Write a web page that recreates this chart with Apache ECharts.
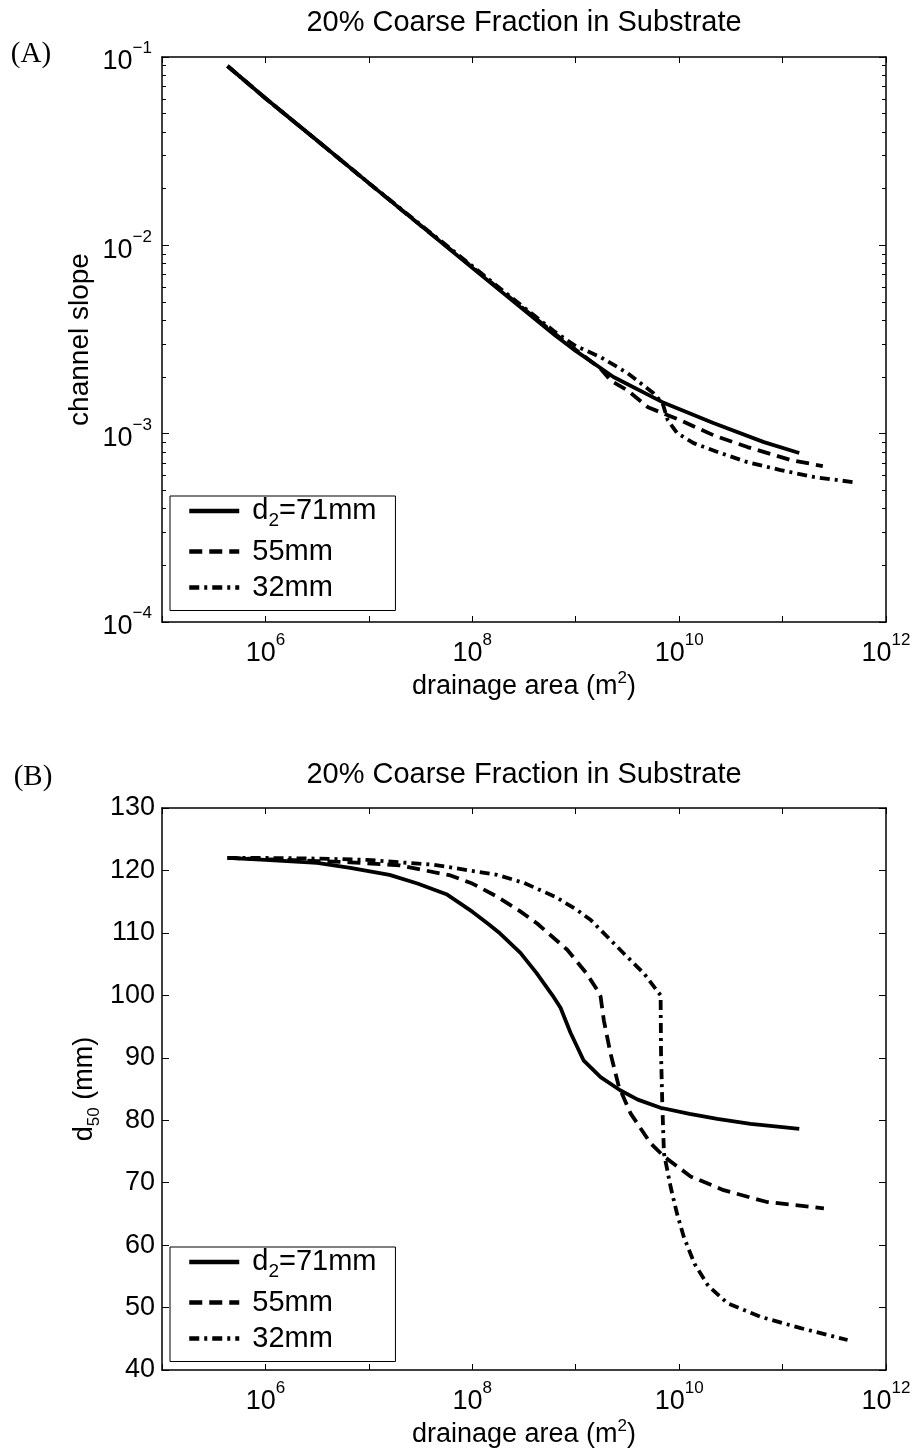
<!DOCTYPE html>
<html>
<head>
<meta charset="utf-8">
<script src="https://cdn.jsdelivr.net/npm/echarts@6/dist/echarts.min.js"></script>
<style>html,body{margin:0;padding:0;background:#fff;}#chart{width:919px;height:1451px;}</style>
</head>
<body>
<div id="chart"></div>
<script>
// ---------- data ----------
const seriesNames = ['d2=71mm', '55mm', '32mm'];

// Panel A: channel slope vs drainage area
const areaA71 = [4.3e5, 1e6, 3.16e6, 1e7, 3.16e7, 1e8, 3.16e8, 6.3e8, 1e9, 2.32e9, 6.9e9, 2.14e10, 6.6e10, 1.45e11];
const slopeA71 = [0.0895, 0.0604, 0.0360, 0.0214, 0.01276, 0.0076, 0.00453, 0.00333, 0.00275, 0.0020, 0.00147, 0.001138, 0.000902, 0.000789];

const areaA55 = [4.3e5, 1e6, 3.16e6, 1e7, 3.16e7, 1e8, 3.16e8, 6.3e8, 1e9, 1.74e9, 2.19e9, 3.16e9, 5.0e9, 1.02e10, 2.14e10, 4.57e10, 1.2e11, 2.45e11];
const slopeA55 = [0.0895, 0.0604, 0.0360, 0.0214, 0.01276, 0.00767, 0.00459, 0.00339, 0.00279, 0.00221, 0.00191, 0.0017, 0.00138, 0.00118, 0.000982, 0.000849, 0.000724, 0.000673];

const areaA32 = [4.3e5, 1e6, 3.16e6, 1e7, 3.16e7, 1e8, 3.16e8, 6.3e8, 1e9, 1.74e9, 3.16e9, 5.62e9, 6.92e9, 7.76e9, 9.55e9, 1.38e10, 2.51e10, 4.57e10, 9.55e10, 2.0e11, 4.8e11];
const slopeA32 = [0.0895, 0.0604, 0.036, 0.0214, 0.01288, 0.00776, 0.00468, 0.00347, 0.00292, 0.00255, 0.0021, 0.001644, 0.001452, 0.00118, 0.001007, 0.000891, 0.000789, 0.000706, 0.000641, 0.000589, 0.000553];

// Panel B: d50 vs drainage area
const areaB71 = [4.3e5, 1e6, 3.16e6, 6.61e6, 1.585e7, 2.95e7, 5.62e7, 1e8, 1.41e8, 1.86e8, 2.92e8, 4.17e8, 5.96e8, 7.13e8, 8.91e8, 1.19e9, 1.74e9, 2.69e9, 3.98e9, 6.61e9, 1.26e10, 2.34e10, 4.9e10, 1e11, 1.45e11];
const d50B71 = [122.0, 121.7, 121.2, 120.4, 119.3, 117.9, 116.2, 113.4, 111.5, 109.9, 106.8, 103.6, 100.0, 98.0, 94.0, 89.6, 86.9, 84.8, 83.3, 82.0, 81.0, 80.2, 79.4, 78.9, 78.6];

const areaB55 = [4.3e5, 1e6, 3.16e6, 6.61e6, 2.0e7, 6.17e7, 1e8, 1.74e8, 2.82e8, 4.24e8, 8.28e8, 1.26e9, 1.61e9, 1.74e9, 1.87e9, 2.17e9, 2.61e9, 3.39e9, 5.3e9, 7.13e9, 1.29e10, 2.69e10, 7.08e10, 2.51e11];
const d50B55 = [122.0, 121.8, 121.5, 121.3, 120.8, 119.2, 117.9, 115.8, 113.6, 111.5, 107.3, 103.6, 100.9, 99.8, 96.0, 90.7, 85.4, 81.1, 76.3, 74.2, 71.0, 68.8, 66.9, 65.9];

const areaB32 = [4.3e5, 1e6, 3.16e6, 9.55e6, 4.27e7, 1.74e8, 3.16e8, 6.31e8, 1e9, 1.39e9, 2.92e9, 4.57e9, 6.62e9, 6.68e9, 6.87e9, 7.13e9, 8.28e9, 9.55e9, 1.11e10, 1.41e10, 1.91e10, 2.93e10, 6.17e10, 1.5e11, 4.25e11];
const d50B32 = [122.0, 122.0, 121.9, 121.7, 120.9, 119.3, 118.0, 115.8, 113.8, 112.1, 106.7, 103.5, 100.0, 90.8, 82.7, 74.7, 69.3, 65.0, 61.3, 57.0, 53.5, 50.7, 48.5, 46.7, 44.8];

// tick definitions
const slopeTickExponents = [-4, -3, -2, -1];
const areaLabelExponents = [6, 8, 10, 12];
const d50Ticks = [40, 50, 60, 70, 80, 90, 100, 110, 120, 130];

// ---------- chart ----------
const FONT = "'Liberation Sans', Arial, Helvetica, sans-serif";
const SERIF = "'Liberation Serif', 'Times New Roman', serif";
const BLACK = '#000';
const zip = (xs, ys) => xs.map((x, i) => [x, ys[i]]);

const supStyle = { fontSize: 17, fontFamily: FONT, color: BLACK, verticalAlign: 'top', lineHeight: 17 };
const expText = e => (e < 0 ? '\u2212' + (-e) : '' + e);

const minorLogTicks = [];
for (let e = -4; e < -1; e++) for (let k = 2; k <= 9; k++) minorLogTicks.push(Math.log10(k) + e);

const xLabelFormatter = v => {
  const e = Math.round(Math.log10(v));
  return areaLabelExponents.includes(e) ? '10{sup|' + expText(e) + '}' : '';
};
const yLogFormatter = v => {
  const e = Math.round(Math.log10(v));
  return slopeTickExponents.includes(e) ? '10{sup|' + expText(e) + '}' : '';
};

function xAxes(gridIndex) {
  const axisLine = { show: true, lineStyle: { color: BLACK, width: 1.5 } };
  const tick = { show: true, inside: true, length: 6, lineStyle: { color: BLACK, width: 1 } };
  return [
    {
      type: 'log', logBase: 10, gridIndex, position: 'bottom', min: 1e5, max: 1e12, splitNumber: 7,
      axisLine, axisTick: tick, splitLine: { show: false },
      axisLabel: { margin: 10, fontSize: 27, fontFamily: FONT, color: BLACK, lineHeight: 44, rich: { sup: supStyle }, formatter: xLabelFormatter },
      name: 'drainage area (m{sup|2})', nameLocation: 'middle', nameGap: 48, nameMoveOverlap: false,
      nameTextStyle: { fontSize: 27, fontFamily: FONT, color: BLACK, lineHeight: 34, rich: { sup: supStyle } }
    },
    {
      type: 'log', logBase: 10, gridIndex, position: 'top', min: 1e5, max: 1e12, splitNumber: 7,
      axisLine, axisTick: tick, splitLine: { show: false }, axisLabel: { show: false }
    }
  ];
}

const option = {
  backgroundColor: '#fff',
  animation: false,
  grid: [
    { left: 162, right: 33, top: 57, height: 565, outerBoundsMode: 'none' },
    { left: 162, right: 33, top: 808, height: 562, outerBoundsMode: 'none' }
  ],
  xAxis: [...xAxes(0), ...xAxes(1)],
  yAxis: [
    { // A left, major
      type: 'log', logBase: 10, gridIndex: 0, position: 'left', min: 1e-4, max: 1e-1, splitNumber: 3,
      axisLine: { show: true, lineStyle: { color: BLACK, width: 1.5 } },
      axisTick: { show: true, inside: true, length: 7, lineStyle: { color: BLACK } },
      splitLine: { show: false },
      axisLabel: { margin: 10, padding: [10, 0, 0, 0], fontSize: 27, fontFamily: FONT, color: BLACK, lineHeight: 44, rich: { sup: supStyle }, formatter: yLogFormatter },
      name: 'channel slope', nameLocation: 'middle', nameGap: 68, nameMoveOverlap: false,
      nameTextStyle: { fontSize: 28, fontFamily: FONT, color: BLACK }
    },
    { // A left, minor ticks
      type: 'value', gridIndex: 0, position: 'left', min: -4, max: -1,
      axisLine: { show: false }, splitLine: { show: false }, axisLabel: { show: false },
      axisTick: { show: true, inside: true, length: 4, customValues: minorLogTicks, lineStyle: { color: BLACK } }
    },
    { // A right, major
      type: 'log', logBase: 10, gridIndex: 0, position: 'right', min: 1e-4, max: 1e-1, splitNumber: 3,
      axisLine: { show: true, lineStyle: { color: BLACK, width: 1.5 } },
      axisTick: { show: true, inside: true, length: 7, lineStyle: { color: BLACK } },
      splitLine: { show: false }, axisLabel: { show: false }
    },
    { // A right, minor
      type: 'value', gridIndex: 0, position: 'right', min: -4, max: -1,
      axisLine: { show: false }, splitLine: { show: false }, axisLabel: { show: false },
      axisTick: { show: true, inside: true, length: 4, customValues: minorLogTicks, lineStyle: { color: BLACK } }
    },
    { // B left
      type: 'value', gridIndex: 1, position: 'left', min: d50Ticks[0], max: d50Ticks[d50Ticks.length - 1], interval: 10,
      axisLine: { show: true, lineStyle: { color: BLACK, width: 1.5 } },
      axisTick: { show: true, inside: true, length: 7, lineStyle: { color: BLACK } },
      splitLine: { show: false },
      axisLabel: { margin: 7, fontSize: 27, fontFamily: FONT, color: BLACK },
      name: 'd{sub|50} (mm)', nameLocation: 'middle', nameGap: 62, nameMoveOverlap: false,
      nameTextStyle: { fontSize: 27, fontFamily: FONT, color: BLACK, lineHeight: 30,
        rich: { sub: { fontSize: 17, fontFamily: FONT, color: BLACK, padding: [18, 0, 0, 0] } } }
    },
    { // B right
      type: 'value', gridIndex: 1, position: 'right', min: d50Ticks[0], max: d50Ticks[d50Ticks.length - 1], interval: 10,
      axisLine: { show: true, lineStyle: { color: BLACK, width: 1.5 } },
      axisTick: { show: true, inside: true, length: 7, lineStyle: { color: BLACK } },
      splitLine: { show: false }, axisLabel: { show: false }
    }
  ],
  legend: [0, 1].map(i => ({
    data: seriesNames,
    orient: 'vertical',
    left: 170,
    top: i === 0 ? 496 : 1247,
    backgroundColor: '#fff',
    borderColor: BLACK,
    borderWidth: 1,
    borderRadius: 0,
    padding: [0, 19, 8, 17],
    itemGap: 6,
    itemWidth: 50,
    itemHeight: 20,
    selectedMode: false,
    itemStyle: { color: 'rgba(0,0,0,0)', borderWidth: 0, opacity: 0 },
    lineStyle: { width: 4.5, color: BLACK },
    textStyle: { fontSize: 29, fontFamily: FONT, color: BLACK, lineHeight: 30, padding: [0, 0, 0, 8],
      rich: { sub: { fontSize: 19, fontFamily: FONT, color: BLACK, padding: [20, 0, 0, 0] } } },
    formatter: name => (name === 'd2=71mm' ? 'd{sub|2}=71mm' : name)
  })),
  graphic: [
    { type: 'text', x: 524, y: 23, style: { text: '20% Coarse Fraction in Substrate', fontSize: 29, fontFamily: FONT, fill: BLACK, align: 'center', verticalAlign: 'middle' } },
    { type: 'text', x: 524, y: 775, style: { text: '20% Coarse Fraction in Substrate', fontSize: 29, fontFamily: FONT, fill: BLACK, align: 'center', verticalAlign: 'middle' } },
    { type: 'text', x: 31, y: 54, style: { text: '(A)', fontSize: 29, fontFamily: SERIF, fill: BLACK, align: 'center', verticalAlign: 'middle' } },
    { type: 'text', x: 33, y: 777, style: { text: '(B)', fontSize: 29, fontFamily: SERIF, fill: BLACK, align: 'center', verticalAlign: 'middle' } }
  ],
  series: []
};

const lineTypes = ['solid', [13, 7], [10, 5, 3, 5]];
const panelA = [[areaA71, slopeA71], [areaA55, slopeA55], [areaA32, slopeA32]];
const panelB = [[areaB71, d50B71], [areaB55, d50B55], [areaB32, d50B32]];
panelA.forEach((d, i) => option.series.push({
  name: seriesNames[i], type: 'line', xAxisIndex: 0, yAxisIndex: 0, data: zip(d[0], d[1]),
  symbol: 'none', z: 3 - i,
  itemStyle: { color: BLACK }, lineStyle: { color: BLACK, width: 3.8, type: lineTypes[i] }
}));
panelB.forEach((d, i) => option.series.push({
  name: seriesNames[i], type: 'line', xAxisIndex: 2, yAxisIndex: 4, data: zip(d[0], d[1]),
  symbol: 'none', z: 3 - i,
  itemStyle: { color: BLACK }, lineStyle: { color: BLACK, width: 3.8, type: lineTypes[i] }
}));

const chart = echarts.init(document.getElementById('chart'), null, { renderer: 'canvas' });
chart.setOption(option);
</script>
</body>
</html>
